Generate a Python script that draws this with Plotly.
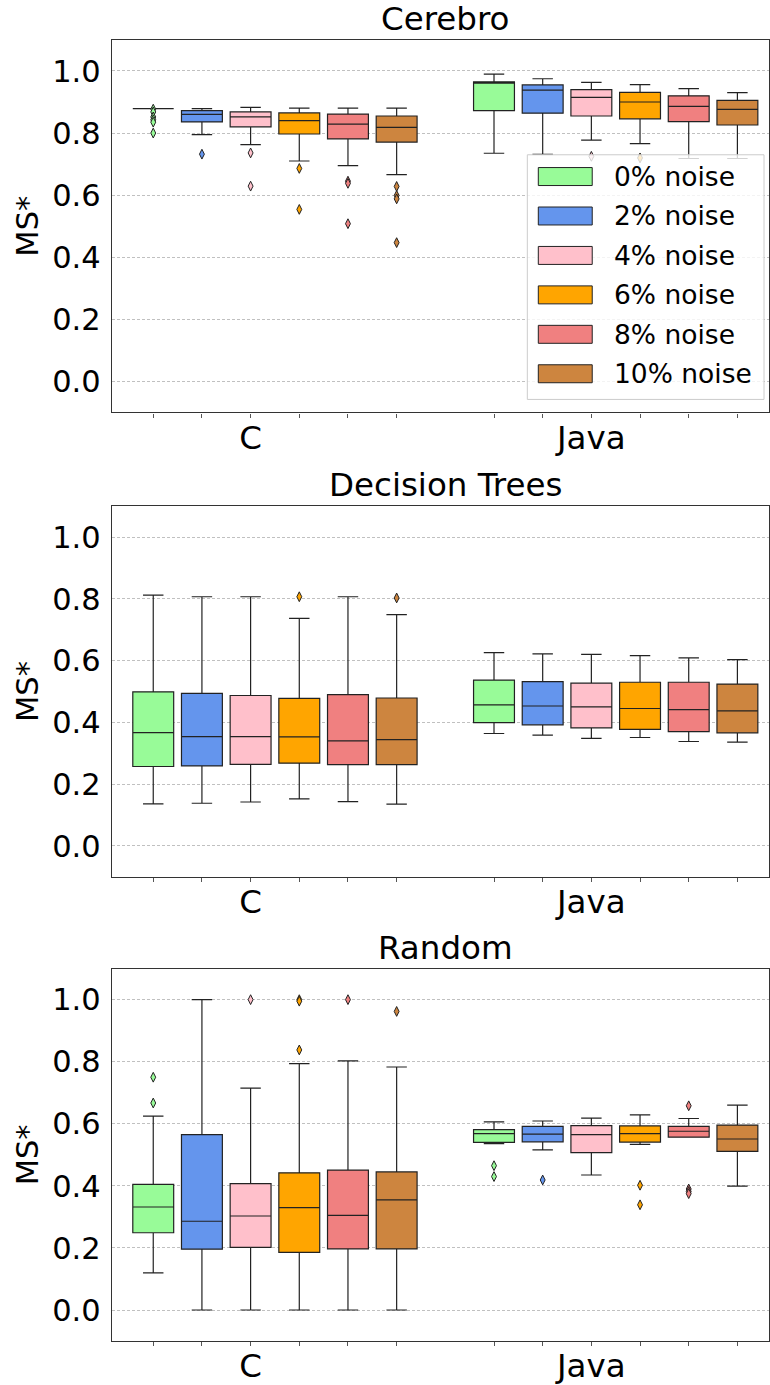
import plotly.graph_objects as go
from plotly.subplots import make_subplots

# ---------------------------------------------------------------------------
# Data: MS* score distributions per language and noise level
# Each stat list holds 12 entries: C (0..10% noise) followed by Java (0..10%)
# ---------------------------------------------------------------------------
LANGUAGES = ["C", "Java"]
NOISE_LABELS = ["0% noise", "2% noise", "4% noise", "6% noise", "8% noise", "10% noise"]
NOISE_COLORS = ["#98FB98", "#6495ED", "#FFC0CB", "#FFA500", "#F08080", "#CD853F"]
PANEL_TITLES = ["Cerebro", "Decision Trees", "Random"]

# Cerebro
cerebro_low = [0.879, 0.795, 0.763, 0.710, 0.695, 0.666,
               0.735, 0.731, 0.777, 0.766, 0.718, 0.718]
cerebro_q1 = [0.879, 0.836, 0.820, 0.797, 0.781, 0.771,
              0.872, 0.864, 0.855, 0.846, 0.837, 0.826]
cerebro_med = [0.879, 0.860, 0.852, 0.840, 0.829, 0.818,
               0.961, 0.938, 0.915, 0.900, 0.886, 0.876]
cerebro_q3 = [0.879, 0.872, 0.868, 0.865, 0.861, 0.855,
              0.965, 0.955, 0.940, 0.931, 0.920, 0.905]
cerebro_high = [0.879, 0.879, 0.883, 0.880, 0.880, 0.880,
                0.990, 0.975, 0.963, 0.956, 0.943, 0.930]
cerebro_out = [[0.877, 0.868, 0.852, 0.843, 0.835, 0.800], [0.732], [0.736, 0.629],
               [0.686, 0.554], [0.645, 0.638, 0.508], [0.628, 0.599, 0.588, 0.447],
               [], [], [0.725], [0.720], [], []]

# Decision Trees
dtree_low = [0.136, 0.138, 0.142, 0.152, 0.143, 0.135,
             0.364, 0.359, 0.348, 0.351, 0.338, 0.336]
dtree_q1 = [0.257, 0.259, 0.264, 0.268, 0.263, 0.263,
            0.399, 0.392, 0.382, 0.377, 0.370, 0.366]
dtree_med = [0.367, 0.354, 0.354, 0.353, 0.340, 0.344,
             0.457, 0.453, 0.450, 0.445, 0.441, 0.437]
dtree_q3 = [0.499, 0.494, 0.487, 0.478, 0.490, 0.479,
            0.537, 0.532, 0.527, 0.530, 0.530, 0.524]
dtree_high = [0.812, 0.807, 0.807, 0.737, 0.807, 0.749,
              0.626, 0.622, 0.620, 0.616, 0.609, 0.603]
dtree_out = [[], [], [], [0.807], [], [0.803],
             [], [], [], [], [], []]

# Random
random_low = [0.120, 0.000, 0.000, 0.000, 0.000, 0.000,
              0.536, 0.516, 0.435, 0.534, 0.557, 0.399]
random_q1 = [0.249, 0.196, 0.202, 0.186, 0.197, 0.197,
             0.540, 0.542, 0.507, 0.541, 0.557, 0.511]
random_med = [0.332, 0.286, 0.303, 0.330, 0.305, 0.355,
              0.568, 0.567, 0.565, 0.568, 0.576, 0.551]
random_q3 = [0.405, 0.565, 0.407, 0.442, 0.451, 0.445,
             0.581, 0.592, 0.594, 0.593, 0.592, 0.596]
random_high = [0.625, 1.000, 0.715, 0.794, 0.803, 0.783,
               0.606, 0.609, 0.618, 0.629, 0.617, 0.660]
random_out = [[0.750, 0.667], [], [1.000], [1.000, 0.995, 0.838], [1.000], [0.962],
              [0.465, 0.430], [0.419], [], [0.402, 0.339], [0.658, 0.390, 0.382, 0.375], []]

PANELS = [
    (cerebro_low, cerebro_q1, cerebro_med, cerebro_q3, cerebro_high, cerebro_out),
    (dtree_low, dtree_q1, dtree_med, dtree_q3, dtree_high, dtree_out),
    (random_low, random_q1, random_med, random_q3, random_high, random_out),
]

# ---------------------------------------------------------------------------
# Layout geometry (pixels of a 770 x 1385 page)
# ---------------------------------------------------------------------------
W, H = 770, 1385
FONT = "DejaVu Sans"
BIG = 32.5            # titles and category labels
TICK = 30.5           # value tick labels and axis titles
LEG = 26.5            # legend text
SLOT = 1 / 7          # spacing between neighbouring noise levels
BOX_W = 0.12
PANEL_PX = [(40, 413), (507, 878), (970, 1343)]   # (top, bottom) of each axes
AX_LEFT_PX = 112
AX_CENTER_PX = 446


def px_x(x):
    return x / W


def px_y(y):
    return 1 - y / H


def position(lang_idx, noise_idx):
    return lang_idx + (noise_idx - 2.5) * SLOT


fig = make_subplots(rows=3, cols=1)

for p, (low, q1, med, q3, high, outs) in enumerate(PANELS):
    row = p + 1
    for li, lang in enumerate(LANGUAGES):
        for ni, color in enumerate(NOISE_COLORS):
            k = li * len(NOISE_COLORS) + ni
            x = position(li, ni)
            fig.add_trace(go.Box(
                x=[x], q1=[q1[k]], median=[med[k]], q3=[q3[k]],
                lowerfence=[low[k]], upperfence=[high[k]],
                width=BOX_W, whiskerwidth=0.5,
                fillcolor=color, line=dict(color="#222222", width=1.2),
                boxpoints=False, showlegend=False, hoverinfo="skip",
            ), row=row, col=1)
            if outs[k]:
                fig.add_trace(go.Scatter(
                    x=[x] * len(outs[k]), y=outs[k], mode="markers",
                    marker=dict(symbol="diamond-tall", size=7, color=color,
                                line=dict(color="#222222", width=1)),
                    showlegend=False, hoverinfo="skip",
                ), row=row, col=1)

    # axes for this panel
    top, bottom = PANEL_PX[p]
    tickvals = [position(li, ni) for li in range(len(LANGUAGES))
                for ni in range(len(NOISE_COLORS))]
    ticktext = []
    for li, lang in enumerate(LANGUAGES):
        for ni in range(len(NOISE_COLORS)):
            ticktext.append(lang if ni == 2 else "")
    fig.update_xaxes(
        row=row, col=1,
        domain=[px_x(AX_LEFT_PX), 1.0],
        range=[(AX_LEFT_PX - 275.3) / 341.2, (W - 275.3) / 341.2],
        tickmode="array", tickvals=tickvals, ticktext=ticktext,
        ticks="outside", ticklen=4, tickcolor="#555555", tickwidth=1,
        ticklabelstandoff=-8,
        tickfont=dict(family=FONT, size=BIG, color="black"),
        showgrid=False, zeroline=False,
        showline=True, linecolor="#333333", linewidth=1.2, mirror=True,
    )
    fig.update_yaxes(
        row=row, col=1,
        domain=[px_y(bottom), px_y(top)],
        range=[-0.1, 1.1], tickmode="array",
        tickvals=[0.0, 0.2, 0.4, 0.6, 0.8, 1.0],
        ticktext=["0.0", "0.2", "0.4", "0.6", "0.8", "1.0"],
        ticks="", ticklabelstandoff=4,
        tickfont=dict(family=FONT, size=TICK, color="black"),
        showgrid=True, gridcolor="#c0c0c0", griddash="3px,2px", gridwidth=0.8,
        zeroline=False,
        showline=True, linecolor="#333333", linewidth=1.2, mirror=True,
        title=dict(text="MS*", font=dict(family=FONT, size=TICK, color="black"),
                   standoff=4),
    )
    fig.add_annotation(
        text=PANEL_TITLES[p], xref="paper", yref="paper",
        x=px_x(AX_CENTER_PX), y=px_y(top), xanchor="center", yanchor="bottom",
        showarrow=False, yshift=0,
        font=dict(family=FONT, size=BIG, color="black"),
    )

# Legend frame and entries in the first panel
LEG_BOX = (528, 155, 765, 400)
fig.add_shape(type="rect", xref="paper", yref="paper",
              x0=px_x(LEG_BOX[0]), x1=px_x(LEG_BOX[2]),
              y0=px_y(LEG_BOX[3]), y1=px_y(LEG_BOX[1]),
              fillcolor="rgba(255,255,255,0.8)",
              line=dict(color="#cccccc", width=1), layer="above")
for i, (label, color) in enumerate(zip(NOISE_LABELS, NOISE_COLORS)):
    cy = 176.8 + 39.5 * i
    fig.add_shape(type="rect", xref="paper", yref="paper",
                  x0=px_x(539), x1=px_x(593),
                  y0=px_y(cy + 9), y1=px_y(cy - 9),
                  fillcolor=color, line=dict(color="#222222", width=1),
                  layer="above")
    fig.add_annotation(text=label, xref="paper", yref="paper",
                       x=px_x(613), y=px_y(cy), xanchor="left", yanchor="middle",
                       showarrow=False,
                       font=dict(family=FONT, size=LEG, color="black"))

fig.update_layout(
    width=W, height=H,
    margin=dict(l=0, r=0, t=0, b=0),
    paper_bgcolor="white", plot_bgcolor="white",
    showlegend=False,
    boxmode="overlay",
)

fig.write_html("out.html")
